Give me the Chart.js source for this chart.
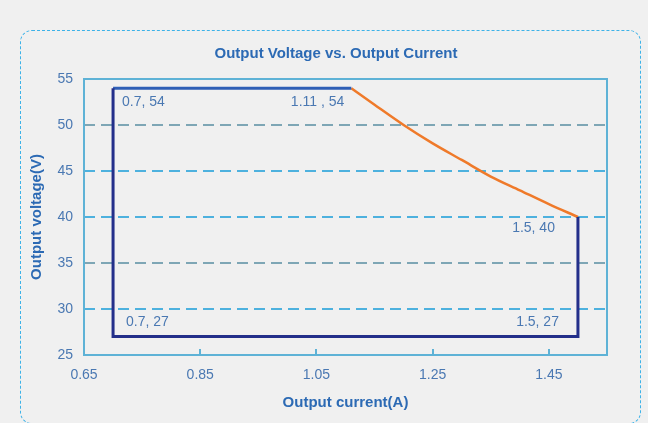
<!DOCTYPE html>
<html>
<head>
<meta charset="utf-8">
<script src="https://cdn.jsdelivr.net/npm/chart.js@4"></script>
<style>
  html, body { margin: 0; padding: 0; background: #f0f0f0; }
  body { width: 648px; height: 423px; position: relative; overflow: hidden; }
  .card { position: absolute; left: 20px; top: 30px; width: 619px; height: 392px;
          border: 1.5px dashed #3db2e8; border-radius: 12px; }
  #chart { position: absolute; left: 24px; top: 0; }
</style>
</head>
<body>
<div class="card"></div>
<canvas id="chart" width="624" height="423"></canvas>
<script>
// 데이터
const xTicks = [0.65, 0.85, 1.05, 1.25, 1.45];
const yTicks = [25, 30, 35, 40, 45, 50, 55];

const currentTop = [0.7, 1.11];
const voltageTop = [54, 54];

const currentPower = [1.11, 1.15, 1.2, 1.25, 1.3, 1.35, 1.4, 1.45, 1.5];
const voltagePower = [54, 52.2, 50, 48, 46.2, 44.4, 42.9, 41.4, 40];

const currentFrame = [0.7, 0.7, 1.5, 1.5];
const voltageFrame = [54, 27, 27, 40];

const pointText = ['0.7, 54', '1.11 , 54', '1.5, 40', '0.7, 27', '1.5, 27'];
const pointX = [0.7, 1.11, 1.5, 0.7, 1.5];
const pointY = [54, 54, 40, 27, 27];

function toXY(xs, ys) {
  return xs.map(function (x, i) { return { x: x, y: ys[i] }; });
}

const fontFam = '"Liberation Sans", Arial, sans-serif';
const labelColor = '#4a78b2';
const titleColor = '#2c6ab4';

// 플롯 테두리 + 안쪽 눈금
const framePlugin = {
  id: 'frame',
  beforeDatasetsDraw(chart) {
    const ctx = chart.ctx, a = chart.chartArea, xs = chart.scales.x;
    ctx.save();
    ctx.strokeStyle = '#5eb2d6';
    ctx.lineWidth = 2;
    ctx.strokeRect(a.left, a.top, a.right - a.left, a.bottom - a.top);
    xTicks.slice(1).forEach(function (v) {
      const px = Math.round(xs.getPixelForValue(v));
      ctx.beginPath();
      ctx.moveTo(px, a.bottom);
      ctx.lineTo(px, a.bottom - 6);
      ctx.stroke();
    });
    ctx.restore();
  }
};

// 점 라벨
const labelOffsets = [
  { dx: 9, dy: 14, align: 'left' },
  { dx: -7, dy: 14, align: 'right' },
  { dx: -23, dy: 11, align: 'right' },
  { dx: 13, dy: -14, align: 'left' },
  { dx: -19, dy: -14, align: 'right' }
];
const labelPlugin = {
  id: 'pointLabels',
  afterDatasetsDraw(chart) {
    const ctx = chart.ctx, xs = chart.scales.x, ys = chart.scales.y;
    ctx.save();
    ctx.font = '14px ' + fontFam;
    ctx.fillStyle = labelColor;
    ctx.textBaseline = 'middle';
    pointText.forEach(function (t, i) {
      const o = labelOffsets[i];
      ctx.textAlign = o.align;
      ctx.fillText(t, xs.getPixelForValue(pointX[i]) + o.dx, ys.getPixelForValue(pointY[i]) + o.dy);
    });
    ctx.restore();
  }
};

const config = {
  type: 'scatter',
  data: {
    datasets: [
      {
        label: 'frame',
        data: toXY(currentFrame, voltageFrame),
        showLine: true,
        borderColor: '#232f8a',
        borderWidth: 3,
        pointRadius: 0
      },
      {
        label: 'top',
        data: toXY(currentTop, voltageTop),
        showLine: true,
        borderColor: '#2f5fb6',
        borderWidth: 3,
        pointRadius: 0
      },
      {
        label: 'power',
        data: toXY(currentPower, voltagePower),
        showLine: true,
        borderColor: '#ef7a2a',
        borderWidth: 2.5,
        pointRadius: 0,
        cubicInterpolationMode: 'monotone'
      }
    ]
  },
  options: {
    responsive: false,
    animation: false,
    layout: { padding: { left: 0, right: 0, top: 30, bottom: 7 } },
    plugins: {
      legend: { display: false },
      tooltip: { enabled: false },
      title: {
        display: true,
        text: 'Output Voltage vs. Output Current',
        color: titleColor,
        font: { family: fontFam, size: 15, weight: 'bold' },
        padding: { top: 14.5, bottom: 16.5 }
      }
    },
    scales: {
      x: {
        type: 'linear',
        min: 0.65,
        max: 1.55,
        afterBuildTicks: function (s) { s.ticks = xTicks.map(function (v) { return { value: v }; }); },
        afterFit: function (s) { s.height = 61; },
        grid: { display: false, drawTicks: false },
        border: { display: false },
        ticks: {
          color: labelColor,
          padding: 12,
          font: { family: fontFam, size: 14 },
          callback: function (v) { return v.toFixed(2); }
        },
        title: {
          display: true,
          text: 'Output current(A)',
          color: titleColor,
          font: { family: fontFam, size: 15, weight: 'bold' }
        }
      },
      y: {
        min: 25,
        max: 55,
        afterBuildTicks: function (s) { s.ticks = yTicks.map(function (v) { return { value: v }; }); },
        afterFit: function (s) { s.width = 60; },
        grid: {
          drawTicks: false,
          lineWidth: 2,
          color: function (c) {
            const v = c.tick && c.tick.value;
            if (v === 25 || v === 55) return 'rgba(0,0,0,0)';
            if (v === 50 || v === 35) return '#7ea6b5';
            return '#4db1de';
          }
        },
        border: { display: false, dash: [11, 6] },
        ticks: {
          color: labelColor,
          padding: 11,
          font: { family: fontFam, size: 14 }
        },
        title: {
          display: true,
          text: 'Output voltage(V)',
          color: titleColor,
          font: { family: fontFam, size: 15, weight: 'bold' }
        }
      },
      // 오른쪽 여백용 빈 축
      yRight: {
        position: 'right',
        min: 25,
        max: 55,
        afterFit: function (s) { s.width = 41; },
        grid: { display: false, drawTicks: false },
        border: { display: false },
        ticks: { display: false }
      }
    }
  },
  plugins: [framePlugin, labelPlugin]
};

const myChart = new Chart(document.getElementById('chart'), config);
</script>
</body>
</html>
